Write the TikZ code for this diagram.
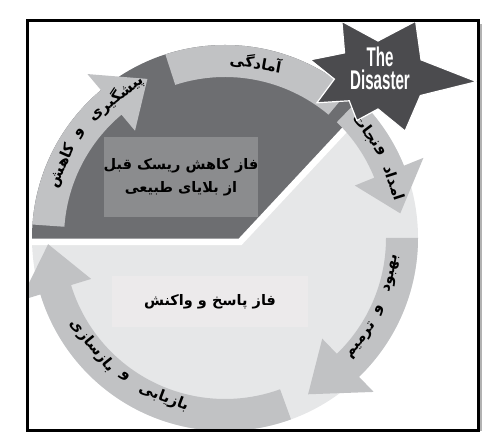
\documentclass[tikz,border=0pt]{standalone}
\usepackage{fontspec}
\usepackage{xcolor}
\usepackage{tikz}
\usetikzlibrary{positioning}
\TeXXeTstate=1
\newfontfamily\farsi[Script=Arabic]{DejaVu Sans}
\newfontfamily\narrowsans[FakeStretch=0.56]{Liberation Sans}
\definecolor{PhaseDark}{HTML}{6D6E71}
\definecolor{PhaseBox}{HTML}{8B8C8E}
\definecolor{PhaseLight}{HTML}{E6E7E8}
\definecolor{PhaseLightBox}{HTML}{ECEAEB}
\definecolor{CycleGray}{HTML}{C1C2C4}
\definecolor{StarGray}{HTML}{4B4B4E}

% arrow on the ring: tail angle, back of the head, tip angle
\newcommand{\ringarrow}[3]{%
  \fill[CycleGray] (#1:193) arc[start angle=#1, end angle=#2, radius=193]
    -- (#2:214) -- (#3:177) -- (#2:140) -- (#2:161)
    arc[start angle=#2, end angle=#1, radius=161] -- cycle;}
% one word on the ring: upper half (tops outward), lower half (tops inward)
\newcommand{\upword}[3]{\node[ringword, rotate=#2-90] (#1) at (#2:178) {\beginR #3\endR};}
\newcommand{\lowword}[3]{\node[ringword, rotate=#2+90] (#1) at (#2:171) {\beginR #3\endR};}

\begin{document}
\begin{tikzpicture}[x=1pt, y=1pt,
  ringword/.style={font=\farsi\bfseries\fontsize{15}{16}\selectfont, inner sep=0pt},
  phasebox/.style={font=\farsi\bfseries\fontsize{14.5}{23}\selectfont, align=center, inner sep=0pt}]
\useasboundingbox (0,0) rectangle (502,438);
\begin{scope}
\clip (28.5,9.5) rectangle (476.5,415.5);
\begin{scope}[shift={(225,200)}]
% the two phases
\fill[PhaseLight] (0,0) circle[radius=193];
\begin{scope}
  \clip (0,0) circle[radius=193];
  \fill[PhaseDark] (-250,-4) -- (15,-4) -- ++(47:300) -- (-250,215) -- cycle;
\end{scope}
\draw[white, line width=6.5] (-250,-4) -- (15,-4) -- ++(47:300);
\node[phasebox, fill=PhaseBox, minimum width=142pt, minimum height=80pt] (before) at (-44,61)
  {\beginR فاز کاهش ریسک قبل\endR\\\beginR از بلایای طبیعی\endR};
\node[phasebox, fill=PhaseLightBox, minimum width=196pt, minimum height=51pt] (response) at (-15,-64)
  {\beginR فاز پاسخ و واکنش\endR};
% the cycle
\ringarrow{176}{130}{116}
\fill[CycleGray] (108:193) arc[start angle=108, end angle=50, radius=193]
  -- (50:161) arc[start angle=50, end angle=108, radius=161] -- cycle;
\ringarrow{46}{22}{8}
\ringarrow{0}{-46}{-62}
\ringarrow{-70}{-163}{-178}
\upword{prev1}{128}{پیشگیری}
\upword{prev2}{144}{و}
\upword{prev3}{156}{کاهش}
\upword{prep}{80}{آمادگی}
\upword{relief1}{37}{نجات}
\upword{relief2}{29}{و}
\upword{relief3}{18}{امداد}
\lowword{repair1}{-12}{بهبود}
\lowword{repair2}{-25}{و}
\lowword{repair3}{-37}{ترمیم}
\lowword{rebuild1}{-111}{بازیابی}
\lowword{rebuild2}{-126}{و}
\lowword{rebuild3}{-141}{بازسازی}
\end{scope}
% the star
\begin{scope}[shift={(378,365)}]
\fill[StarGray, draw=white, line width=1.2] (169:69)
  \foreach \a/\r in {149/39, 125/63, 90/32, 54/64, 17/45, -5/99, -28/48, -65/64,
                     -90/36, -114/52, -136/40, -154/68, -172/44} {-- (\a:\r)} -- cycle;
\end{scope}
\node[font=\narrowsans\bfseries\fontsize{27}{23}\selectfont, text=white, align=center]
  (disaster) at (380,370) {The\\Disaster};
\end{scope}
\draw[black!30, line width=2] (481,7) -- (481,414);
\draw[line width=3] (27,8) rectangle (478,417);
\end{tikzpicture}
\end{document}
